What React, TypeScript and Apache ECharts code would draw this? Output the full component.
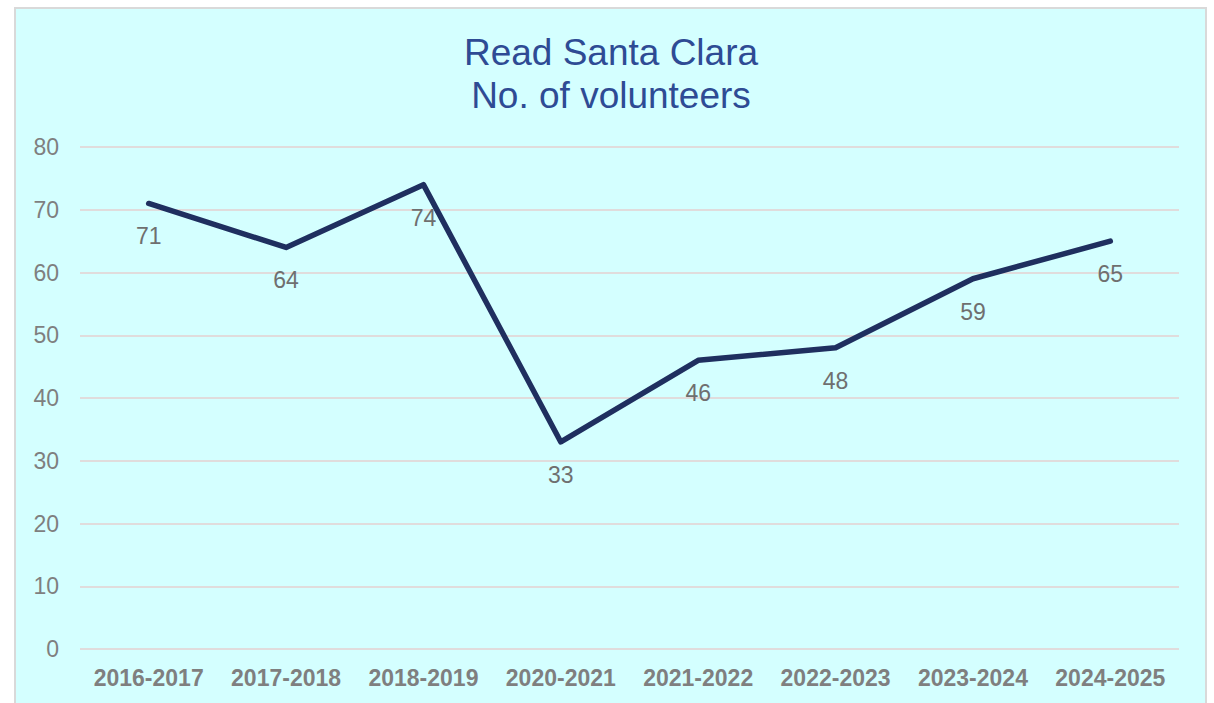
import React, { useEffect, useRef } from "react";
import * as echarts from "echarts";

const categories = ["2016-2017", "2017-2018", "2018-2019", "2020-2021", "2021-2022", "2022-2023", "2023-2024", "2024-2025"];
const volunteers = [71, 64, 74, 33, 46, 48, 59, 65];
const titleLines = ["Read Santa Clara", "No. of volunteers"];

export default function App() {
  const ref = useRef<HTMLDivElement>(null);
  useEffect(() => {
    if (!ref.current) return;
    const chart = echarts.init(ref.current, undefined, { renderer: "svg" });
    const font = "'Liberation Sans', Arial, sans-serif";
    chart.setOption({
      animation: false,
      backgroundColor: "#ffffff",
      graphic: [
        {
          type: "rect",
          z: -10,
          silent: true,
          shape: { x: 15, y: 8, width: 1191, height: 705 },
          style: { fill: "#D4FFFF", stroke: "#D9D9D9", lineWidth: 2 },
        },
      ],
      title: {
        text: titleLines.join("\n"),
        left: 606,
        textAlign: "center",
        top: 26,
        textStyle: {
          fontFamily: font,
          fontSize: 37,
          fontWeight: "normal",
          color: "#2E4B94",
          lineHeight: 43,
        },
      },
      grid: { left: 80, right: 35, top: 147, bottom: 54 },
      xAxis: {
        type: "category",
        data: categories,
        boundaryGap: true,
        axisLine: { show: false },
        axisTick: { show: false },
        axisLabel: {
          margin: 17,
          fontFamily: font,
          fontSize: 23,
          fontWeight: "bold",
          color: "#7F7F7F",
          interval: 0,
        },
      },
      yAxis: {
        type: "value",
        min: 0,
        max: 80,
        interval: 10,
        axisLine: { show: false },
        axisTick: { show: false },
        axisLabel: { margin: 21, fontFamily: font, fontSize: 23, color: "#7F7F7F" },
        splitLine: { lineStyle: { color: "#E0DCDC", width: 2 } },
      },
      series: [
        {
          type: "line",
          data: volunteers,
          symbol: "circle",
          symbolSize: 1,
          itemStyle: { color: "#1F2F5F" },
          lineStyle: { color: "#1F2F5F", width: 5.5, cap: "round", join: "round" },
          label: {
            show: true,
            position: "bottom",
            distance: 21,
            fontFamily: font,
            fontSize: 23,
            color: "#6F6F6F",
          },
        },
      ],
    });
    return () => chart.dispose();
  }, []);
  return <div ref={ref} style={{ position: "fixed", left: 0, top: 0, width: 1214, height: 703 }} />;
}
